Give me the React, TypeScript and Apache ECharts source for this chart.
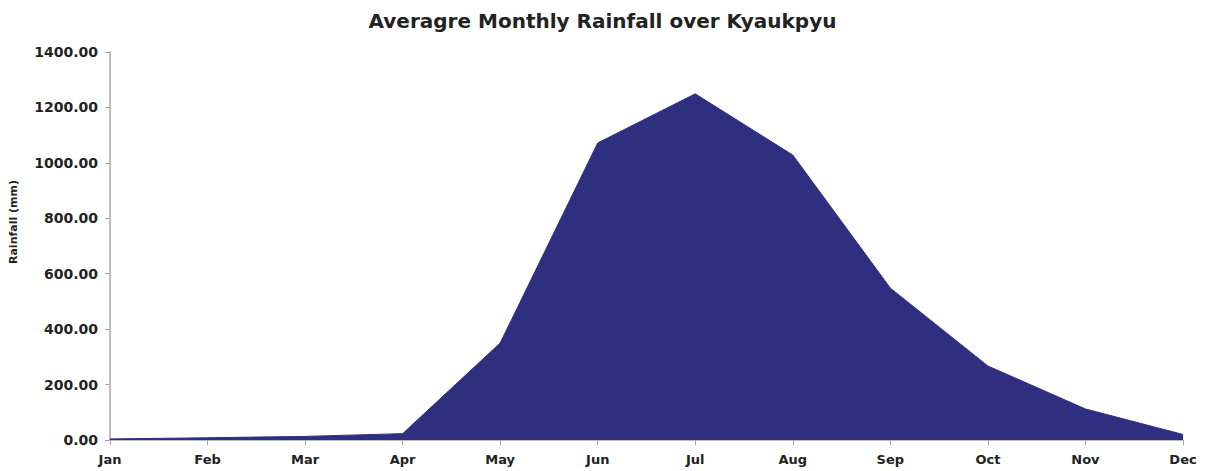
import React, { useEffect, useRef } from "react";
import * as echarts from "echarts";

const months = ["Jan", "Feb", "Mar", "Apr", "May", "Jun", "Jul", "Aug", "Sep", "Oct", "Nov", "Dec"];
const rainfall = [4, 8, 13, 23, 350, 1072, 1249, 1028, 548, 267, 112, 20];
const yTicksMax = 1400;
const yInterval = 200;

export default function App() {
  const ref = useRef<HTMLDivElement>(null);
  useEffect(() => {
    document.body.style.margin = "0";
    const chart = echarts.init(ref.current!, null, { renderer: "svg" });
    const font = "'DejaVu Sans', sans-serif";
    chart.setOption({
      animation: false,
      backgroundColor: "#ffffff",
      title: {
        text: "Averagre Monthly Rainfall over Kyaukpyu",
        left: "center",
        top: 6,
        textStyle: { fontFamily: font, fontWeight: "bold", fontSize: 20, color: "#222" },
      },
      graphic: [
        {
          type: "text",
          x: 13,
          y: 222,
          rotation: Math.PI / 2,
          style: {
            text: "Rainfall (mm)",
            fontFamily: font,
            fontWeight: "bold",
            fontSize: 11,
            fill: "#222",
            align: "center",
            verticalAlign: "middle",
          },
        },
      ],
      grid: { left: 110, right: 22, top: 52, bottom: 31 },
      xAxis: {
        type: "category",
        data: months,
        boundaryGap: false,
        axisLine: { lineStyle: { color: "#a6a6a6", width: 1.5 } },
        axisTick: { show: true, length: 5, lineStyle: { color: "#a6a6a6" } },
        axisLabel: { fontFamily: font, fontWeight: "bold", fontSize: 13, color: "#222", margin: 13 },
      },
      yAxis: {
        type: "value",
        min: 0,
        max: yTicksMax,
        interval: yInterval,
        axisLine: { show: true, lineStyle: { color: "#a6a6a6", width: 1.5 } },
        axisTick: { show: true, length: 5, lineStyle: { color: "#a6a6a6" } },
        splitLine: { show: false },
        axisLabel: {
          fontFamily: font,
          fontWeight: "bold",
          fontSize: 14,
          color: "#222",
          margin: 12,
          formatter: (v: number) => v.toFixed(2),
        },
      },
      series: [
        {
          type: "line",
          data: rainfall,
          symbol: "none",
          lineStyle: { width: 1, color: "#2e2f7f" },
          areaStyle: { color: "#2e2f7f", opacity: 1 },
        },
      ],
    });
    return () => chart.dispose();
  }, []);
  return <div ref={ref} style={{ width: 1205, height: 471 }} />;
}
